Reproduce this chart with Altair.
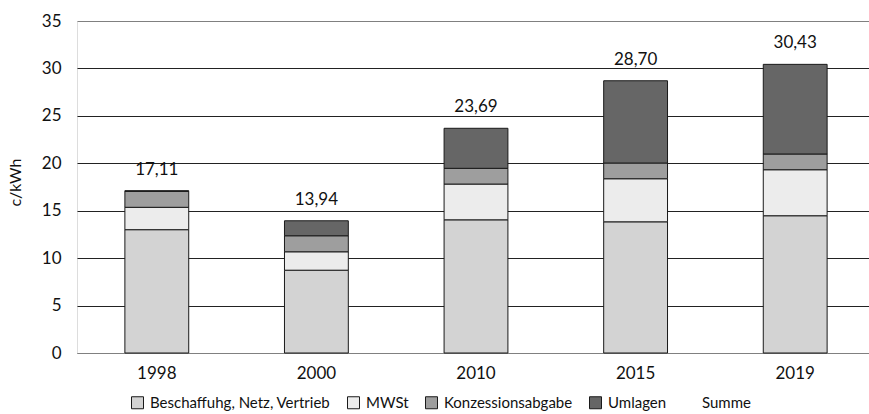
import altair as alt
import pandas as pd

# Strompreis-Zusammensetzung (c/kWh)
years = ["1998", "2000", "2010", "2015", "2019"]
series = ["Beschaffuhg, Netz, Vertrieb", "MWSt", "Konzessionsabgabe", "Umlagen"]
beschaffung = [13.00, 8.73, 14.04, 13.83, 14.47]
mwst = [2.36, 1.94, 3.77, 4.54, 4.85]
konzession = [1.68, 1.69, 1.66, 1.66, 1.66]
umlagen = [0.07, 1.58, 4.22, 8.67, 9.45]

legend_items = series + ["Summe"]
fills = ["#d3d3d3", "#ececec", "#9e9e9e", "#666666", "#ffffff"]
strokes = ["#1a1a1a", "#1a1a1a", "#1a1a1a", "#1a1a1a", "#ffffff"]

rows = []
for i, y in enumerate(years):
    for k, (name, vals) in enumerate(zip(series, [beschaffung, mwst, konzession, umlagen])):
        rows.append({"Jahr": y, "Anteil": name, "Wert": vals[i], "Reihe": k})
df = pd.DataFrame(rows)

FONT = "Lato"
x_scale = alt.Scale(range=[0, 798], paddingInner=0.6, paddingOuter=0.3)

x_enc = alt.X(
    "Jahr:N",
    sort=years,
    title=None,
    scale=x_scale,
    axis=alt.Axis(
        labelAngle=0,
        ticks=False,
        domain=True,
        domainColor="#808080",
        domainWidth=1,
        labelPadding=12,
        labelFontSize=17,
        labelFont=FONT,
        labelColor="#111",
        grid=False,
    ),
)

legend_style = dict(
    title=None,
    orient="none",
    direction="horizontal",
    legendX=53,
    legendY=374,
    symbolType="square",
    symbolSize=144,
    symbolStrokeWidth=1,
    labelFont=FONT,
    labelFontSize=15,
    labelColor="#111",
    labelOffset=5,
    columnPadding=14,
    labelLimit=400,
)

bars = (
    alt.Chart(df)
    .mark_bar(strokeWidth=1)
    .encode(
        x=x_enc,
        y=alt.Y(
            "sum(Wert):Q",
            stack="zero",
            title="c/kWh",
            scale=alt.Scale(domain=[0, 35], nice=False),
            axis=alt.Axis(
                values=[0, 5, 10, 15, 20, 25, 30, 35],
                ticks=False,
                domain=False,
                labelPadding=16,
                labelFontSize=17,
                labelFont=FONT,
                labelColor="#111",
                grid=True,
                gridColor=alt.condition(
                    "datum.value == 35 || datum.value == 0",
                    alt.value("#808080"),
                    alt.value("#222222"),
                ),
                gridWidth=1,
                titleFont=FONT,
                titleFontSize=16,
                titleFontWeight="normal",
                titleColor="#111",
                titleX=-62,
                titleY=161,
                titleAlign="center",
                titleBaseline="middle",
                titleAngle=270,
            ),
        ),
        fill=alt.Fill(
            "Anteil:N",
            scale=alt.Scale(domain=legend_items, range=fills),
            legend=alt.Legend(**legend_style),
        ),
        stroke=alt.Stroke(
            "Anteil:N",
            scale=alt.Scale(domain=legend_items, range=strokes),
            legend=alt.Legend(**legend_style),
        ),
        order=alt.Order("Reihe:Q", sort="ascending"),
    )
)

# Summenbeschriftung über jedem Balken
labels = (
    alt.Chart(df)
    .transform_aggregate(Summe="sum(Wert)", groupby=["Jahr"])
    .transform_calculate(Text="replace(format(datum.Summe, '.2f'), '.', ',')")
    .mark_text(baseline="bottom", dy=-12, font=FONT, fontSize=17, color="#111")
    .encode(
        x=alt.X("Jahr:N", sort=years, scale=x_scale),
        y=alt.Y("Summe:Q"),
        text="Text:N",
    )
)

chart = (
    alt.layer(bars, labels)
    .properties(
        width=792,
        height=332,
        autosize=alt.AutoSizeParams(type="none"),
        padding={"left": 77, "top": 21, "right": 0, "bottom": 61},
    )
    .configure_view(stroke=None)
    .configure(background="white")
)

chart.save("out.html", embed_options={"renderer": "svg", "actions": False})
